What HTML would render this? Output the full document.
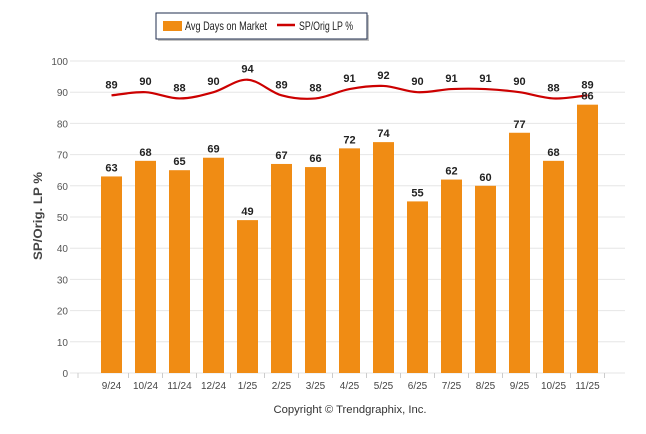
<!DOCTYPE html>
<html><head><meta charset="utf-8"><style>
body{margin:0;background:#fff;}
svg{display:block;font-family:"Liberation Sans",sans-serif;}
</style></head><body>
<svg id="c" width="646" height="434">
<g id="grid"></g>
<g id="bars"></g>
<g id="line"></g>
<g id="labels"></g>
<g id="xaxis"></g>
<text x="42" y="216" transform="rotate(-90 42 216)" text-anchor="middle" font-size="12" font-weight="bold" fill="#444" textLength="88" lengthAdjust="spacingAndGlyphs">SP/Orig. LP %</text>
<text x="350" y="413" text-anchor="middle" font-size="11" fill="#333" textLength="153" lengthAdjust="spacingAndGlyphs">Copyright © Trendgraphix, Inc.</text>
<g>
<rect x="158" y="15" width="211" height="26" fill="#888" opacity="0.5"/>
<rect x="156" y="13" width="211" height="26" fill="#fff" stroke="#1f2d4d" stroke-width="1"/>
<rect x="163" y="21" width="19" height="10" fill="#f08c14"/>
<text x="185" y="30" font-size="12" fill="#222" textLength="82" lengthAdjust="spacingAndGlyphs">Avg Days on Market</text>
<line x1="277" y1="25" x2="295" y2="25" stroke="#cc0000" stroke-width="2.5"/>
<text x="299" y="30" font-size="12" fill="#222" textLength="54" lengthAdjust="spacingAndGlyphs">SP/Orig LP %</text>
</g>
</svg>
<script>
const categories=["9/24","10/24","11/24","12/24","1/25","2/25","3/25","4/25","5/25","6/25","7/25","8/25","9/25","10/25","11/25"];
const daysOnMarket=[63,68,65,69,49,67,66,72,74,55,62,60,77,68,86];
const spOrigLP=[89,90,88,90,94,89,88,91,92,90,91,91,90,88,89];
const yTicks=[0,10,20,30,40,50,60,70,80,90,100];
const NS="http://www.w3.org/2000/svg";
const y0=373,yTop=61,x0=94.5,step=34;
const Y=v=>y0-(v/100)*(y0-yTop);
const X=i=>x0+step*(i+0.5);
function mk(tag,attrs,parent,text){const e=document.createElementNS(NS,tag);for(const k in attrs)e.setAttribute(k,attrs[k]);if(text!==undefined)e.textContent=text;parent.appendChild(e);return e;}
const grid=document.getElementById('grid');
yTicks.forEach(t=>{
 const l=mk('line',{x1:70,x2:625,y1:Y(t),y2:Y(t),stroke:'#e6e6e6','stroke-width':1},grid);
 
 
 const tx=mk('text',{x:68,y:Y(t)+4,'text-anchor':'end','font-size':10,fill:'#555'},grid,String(t));
 
 
});
const bars=document.getElementById('bars'),labels=document.getElementById('labels'),xa=document.getElementById('xaxis');
mk('line',{x1:78,x2:78,y1:y0,y2:y0+5,stroke:'#ccc'},xa);
categories.forEach((c,i)=>{
 const v=daysOnMarket[i];
 const r=mk('rect',{x:X(i)-10.5,y:Y(v),width:21,height:y0-Y(v),fill:'#f08c14'},bars);
 
 
 const t=mk('text',{x:X(i),y:Y(v)-5,'text-anchor':'middle','font-size':11,'font-weight':'bold',fill:'#222'},labels,String(v));
 
 
 mk('line',{x1:X(i)+17,x2:X(i)+17,y1:y0,y2:y0+5,stroke:'#ccc'},xa);
 const xl=mk('text',{x:X(i),y:y0+16,'text-anchor':'middle','font-size':10,fill:'#444'},xa,c);
 
 
});
const pts=spOrigLP.map((v,i)=>[X(i),Y(v)]);
let d='M'+pts[0][0]+','+pts[0][1];
for(let i=0;i<pts.length-1;i++){
 const p0=pts[Math.max(0,i-1)],p1=pts[i],p2=pts[i+1],p3=pts[Math.min(pts.length-1,i+2)];
 const c1=[p1[0]+(p2[0]-p0[0])/6,p1[1]+(p2[1]-p0[1])/6];
 const c2=[p2[0]-(p3[0]-p1[0])/6,p2[1]-(p3[1]-p1[1])/6];
 d+=' C'+c1+' '+c2+' '+p2;
}
const ln=document.getElementById('line');
const path=mk('path',{d:d,fill:'none',stroke:'#cc0000','stroke-width':2.2},ln);


spOrigLP.forEach((v,i)=>{
 const t=mk('text',{x:X(i),y:Y(v)-7,'text-anchor':'middle','font-size':11,'font-weight':'bold',fill:'#222'},labels,String(v));
 
 
});
</script>
</body></html>
